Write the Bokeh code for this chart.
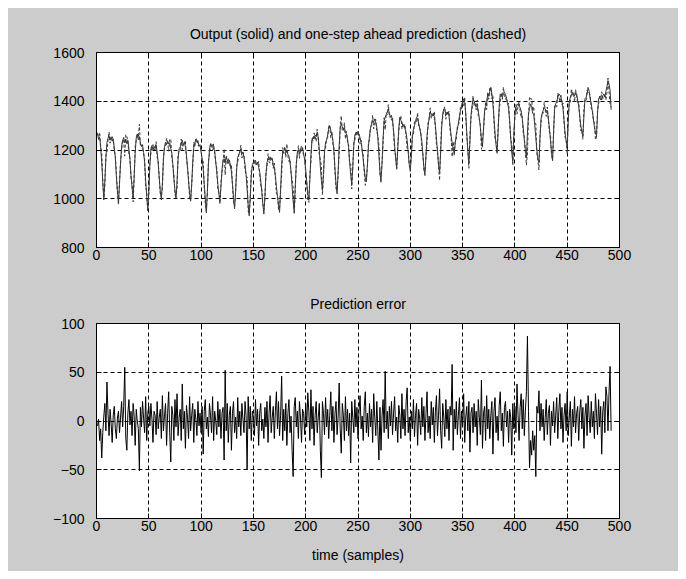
from bokeh.plotting import figure
from bokeh.layouts import column
from bokeh.models import LinearAxis, FixedTicker, Range1d
from bokeh.embed import file_html
from bokeh.resources import INLINE
import numpy as np

# ---- data (samples 1..492) ----
output_vals = [
    1266, 1245, 1252, 1210, 1150, 1065, 1000,
    1075, 1170, 1232, 1248, 1259, 1240, 1252, 1236, 1245, 1210, 1168, 1090, 1030, 985,
    1060, 1150, 1215, 1238, 1252, 1230, 1245, 1226, 1240, 1205, 1160, 1095, 1045, 1005,
    1090, 1190, 1250, 1266, 1242, 1255, 1228, 1215, 1222, 1190, 1150, 1075, 1010, 955,
    1030, 1140, 1205, 1218, 1200, 1215, 1206, 1220, 1190, 1145, 1085, 1030, 995,
    1065, 1160, 1215, 1232, 1222, 1238, 1225, 1230, 1205, 1188, 1140, 1080, 1035, 1003,
    1070, 1165, 1205, 1212, 1225, 1240, 1218, 1232, 1212, 1180, 1130, 1070, 1025, 990,
    1060, 1150, 1210, 1226, 1245, 1232, 1238, 1215, 1222, 1190, 1165, 1120, 1060, 1000, 942,
    1030, 1140, 1200, 1226, 1215, 1222, 1205, 1196, 1150, 1110, 1060, 1020, 990,
    1050, 1120, 1160, 1165, 1150, 1168, 1160, 1145, 1158, 1140, 1110, 1060, 1005, 958,
    1030, 1120, 1170, 1178, 1195, 1205, 1185, 1192, 1170, 1140, 1100, 1040, 975, 930,
    1010, 1095, 1140, 1150, 1145, 1158, 1140, 1150, 1128, 1110, 1075, 1030, 980, 937,
    1010, 1100, 1150, 1163, 1158, 1172, 1160, 1165, 1140, 1128, 1095, 1050, 1010, 975, 944,
    1040, 1140, 1190, 1198, 1205, 1188, 1200, 1182, 1175, 1150, 1110, 1050, 990, 951,
    1050, 1140, 1190, 1200, 1186, 1205, 1195, 1210, 1185, 1160, 1120, 1065, 1020, 995,
    1080, 1180, 1240, 1252, 1245, 1262, 1255, 1273, 1250, 1200, 1130, 1075, 1035,
    1100, 1190, 1232, 1240, 1262, 1285, 1300, 1280, 1266, 1240, 1190, 1120, 1060, 1020,
    1110, 1220, 1290, 1307, 1295, 1286, 1292, 1270, 1266, 1245, 1210, 1150, 1100, 1060,
    1130, 1220, 1262, 1270, 1273, 1262, 1266, 1250, 1232, 1200, 1160, 1120, 1085, 1070,
    1140, 1215, 1259, 1290, 1310, 1321, 1315, 1328, 1310, 1293, 1250, 1180, 1110, 1068,
    1150, 1250, 1320, 1334, 1345, 1355, 1368, 1350, 1334, 1342, 1320, 1280, 1220, 1165, 1125,
    1200, 1290, 1334, 1322, 1314, 1300, 1305, 1286, 1270, 1240, 1190, 1140, 1112,
    1180, 1255, 1286, 1300, 1318, 1334, 1328, 1310, 1290, 1265, 1238, 1180, 1130, 1095,
    1180, 1260, 1300, 1330, 1355, 1348, 1341, 1352, 1336, 1300, 1250, 1190, 1140, 1108,
    1190, 1290, 1350, 1368, 1362, 1348, 1352, 1355, 1340, 1300, 1260, 1230, 1205, 1188,
    1230, 1265, 1285, 1310, 1340, 1362, 1380, 1398, 1410, 1395, 1350, 1270, 1195, 1145,
    1230, 1340, 1380, 1410, 1400, 1385, 1375, 1380, 1360, 1330, 1290, 1245, 1212,
    1290, 1360, 1378, 1392, 1430, 1420, 1440, 1457, 1430, 1390, 1330, 1270, 1220, 1190,
    1280, 1380, 1430, 1425, 1416, 1432, 1437, 1428, 1410, 1395, 1370, 1320, 1250, 1190, 1155,
    1260, 1350, 1375, 1385, 1389, 1378, 1375, 1360, 1330, 1290, 1240, 1200, 1168,
    1270, 1348, 1370, 1389, 1375, 1350, 1348, 1300, 1250, 1200, 1165, 1149,
    1250, 1330, 1348, 1362, 1375, 1368, 1360, 1362, 1330, 1290, 1240, 1190, 1156,
    1280, 1370, 1389, 1400, 1416, 1430, 1425, 1416, 1400, 1370, 1320, 1270, 1235, 1215,
    1320, 1400, 1416, 1425, 1437, 1430, 1422, 1435, 1430, 1405, 1380, 1340, 1300, 1275, 1258,
    1340, 1410, 1416, 1430, 1457, 1440, 1410, 1389, 1360, 1330, 1295, 1270, 1258,
    1350, 1410, 1416, 1420, 1405, 1422, 1430, 1418, 1440, 1460, 1485, 1470, 1445, 1365,
]

error_vals = [
    -5, 2, -20, -8, -38, -12, 5, 18, -10, 40, 8, -15, 12, -3, -22, 6, 15, -8, -18, 3,
    10, -12, 4, 20, -6, 15, 55, -18, -30, 8, 22, -4, 10, -15, 18, 5, -25, 12, 0, -8,
    -51, 14, -6, 20, 3, -12, 25, -20, 8, 15, -5, 18, 2, -22, 10, 6, -14, 20, -8, 4,
    12, -18, 26, -10, 5, 18, -25, 8, 30, -12, -42, 15, 6, -20, 22, -6, 28, -15, 4, 12,
    -20, 38, -8, 10, -28, 16, 4, -18, 25, -10, 6, 18, -22, 12, 2, -15, 20, -5, 8, -12,
    15, -34, 10, 22, -8, 4, -16, 18, 6, -12, 25, -20, 10, 0, -14, 20, -6, 12, -18, 8,
    14, -40, 52, -10, 18, -22, 6, 15, -30, 8, 20, -12, 4, -18, 24, -6, 10, -15, 18, 2,
    -12, 20, 6, -50, 25, -8, 15, -20, 10, 4, -15, 22, -5, 12, -25, 8, 18, -10, 2, -18,
    14, -6, 20, -22, 8, 26, -12, 4, 15, -18, 10, 30, -8, 20, -15, 6, 46, -20, 12, -10,
    18, -25, 8, 22, -12, 5, -30, -57, 15, 24, -6, 10, -18, 20, 4, -22, 12, 8, -14, 18,
    -6, 29, 10, -20, 32, -8, 15, -25, 6, 20, -12, 4, 18, -30, -58, 20, 8, -14, 24, -6,
    12, -18, 6, 30, -10, 15, -22, 8, 20, -14, 4, 39, -8, -33, 18, 6, -20, 25, -10, 12,
    -15, 8, -43, 20, 4, -12, 22, -6, 14, -18, 10, 26, -8, 5, -20, 15, 30, -12, 8, -16,
    18, -6, 12, -22, 28, 4, -15, 20, -10, -40, 14, -30, 6, 22, -12, 51, -8, 10, -18, 15,
    -5, 20, -14, 8, 25, -10, 4, -22, 16, 6, -18, 28, -8, 12, -15, 20, 34, -12, 4, -20,
    10, -8, 22, -16, 6, 18, -25, 12, 2, -14, 24, -6, 15, -20, 8, 30, -12, 5, -18, 20,
    -4, 14, -22, 10, 26, -15, 6, 33, -10, -28, 18, 4, -16, 22, -8, 12, -20, 15, 6, 58,
    -30, 12, -8, 20, -14, 6, 24, -18, 10, -6, 28, -22, 4, 15, -10, 20, -32, 8, 14, -12,
    18, -6, 10, -25, 22, 4, -14, 42, -28, 8, 15, -20, 26, -8, 12, -18, 6, 20, -34, 10,
    24, -12, 5, -20, 16, 30, -10, 8, -26, 14, 20, -6, 10, -22, 12, 4, -35, 18, -8, 15,
    -12, 38, 6, -20, 14, 28, -8, 22, -15, 10, 30, 87, 10, -48, -20, -35, -10, -30, -15, -57,
    15, 8, 31, -10, 18, -6, 12, -20, 4, 22, -14, 8, 16, -25, 10, -5, 20, -12, 6, 24,
    -18, 10, 28, -8, 14, -22, 6, 18, -10, 30, -15, 4, 20, -26, 12, -6, 25, -12, 8, 15,
    -20, 10, 22, -8, 14, -28, 6, 18, -15, 26, 4, -12, 20, -6, 10, -18, 28, 8, -14, 22,
    -6, 15, -34, 10, 20, -12, 35, 25, -10, 30, 56, -10,
]

x_ticks = [0, 50, 100, 150, 200, 250, 300, 350, 400, 450, 500]
top_y_ticks = [800, 1000, 1200, 1400, 1600]
bot_y_ticks = [-100, -50, 0, 50, 100]

n = min(len(output_vals), len(error_vals))
samples = np.arange(1, n + 1)
y = np.array(output_vals[:n], dtype=float)
e = np.array(error_vals[:n], dtype=float)
yhat = y - e  # one-step ahead prediction = output - prediction error

FONT = "'Liberation Sans Narrow', 'Liberation Sans', Arial, sans-serif"
GRAY = "#cccccc"
W = 670


def style(p, yticks, title_standoff):
    p.background_fill_color = "white"
    p.border_fill_color = GRAY
    p.outline_line_color = "black"
    p.xgrid.ticker = FixedTicker(ticks=x_ticks)
    p.ygrid.ticker = FixedTicker(ticks=yticks)
    for g in (p.xgrid, p.ygrid):
        g.grid_line_color = "black"
        g.grid_line_dash = "4 3"
        g.grid_line_width = 1
    p.below[0].ticker = FixedTicker(ticks=x_ticks)
    p.left[0].ticker = FixedTicker(ticks=yticks)
    # box ticks on top and right (labels not drawn)
    p.add_layout(LinearAxis(ticker=FixedTicker(ticks=x_ticks), major_label_text_color=None,
                            major_label_text_font_size="1px", major_label_standoff=0), "above")
    p.add_layout(LinearAxis(ticker=FixedTicker(ticks=yticks), major_label_text_color=None,
                            major_label_text_font_size="1px", major_label_standoff=0), "right")
    for ax in p.below + p.left + p.above + p.right:
        ax.major_tick_in = 5
        ax.major_tick_out = 0
        ax.minor_tick_line_color = None
        ax.axis_line_color = "black"
        ax.major_tick_line_color = "black"
    for ax in p.below + p.left:
        ax.major_label_text_color = "black"
        ax.major_label_text_font = FONT
        ax.major_label_text_font_size = "14px"
    p.below[0].major_label_standoff = 2
    p.left[0].major_label_standoff = 12
    p.title.text_font = FONT
    p.title.text_font_size = "14px"
    p.title.text_font_style = "normal"
    p.title.text_color = "black"
    p.title.align = "center"
    p.title.standoff = title_standoff


top = figure(width=W, height=271, x_range=Range1d(0, 500), y_range=Range1d(800, 1600),
             output_backend="svg", toolbar_location=None,
             min_border_left=88, min_border_right=59, min_border_top=44, min_border_bottom=32,
             title="Output (solid) and one-step ahead prediction (dashed)")
style(top, top_y_ticks, 21)
top.line(samples, y, line_color="#383838", line_width=1)
top.line(samples, yhat, line_color="#383838", line_width=1, line_dash="3 2")

bot = figure(width=W, height=292, x_range=Range1d(0, 500), y_range=Range1d(-100, 100),
             output_backend="svg", toolbar_location=None,
             min_border_left=88, min_border_right=59, min_border_top=44, min_border_bottom=53,
             title="Prediction error")
style(bot, bot_y_ticks, 24)
xb = bot.below[0]
xb.axis_label = "time (samples)"
xb.axis_label_text_font = FONT
xb.axis_label_text_font_size = "14px"
xb.axis_label_text_font_style = "normal"
xb.axis_label_text_color = "black"
xb.axis_label_standoff = 13
bot.line(samples, e, line_color="black", line_width=1)

layout = column(top, bot, spacing=0, margin=(8, 0, 0, 8),
                styles={"background-color": GRAY})
open("out.html", "w").write(file_html(layout, INLINE))
